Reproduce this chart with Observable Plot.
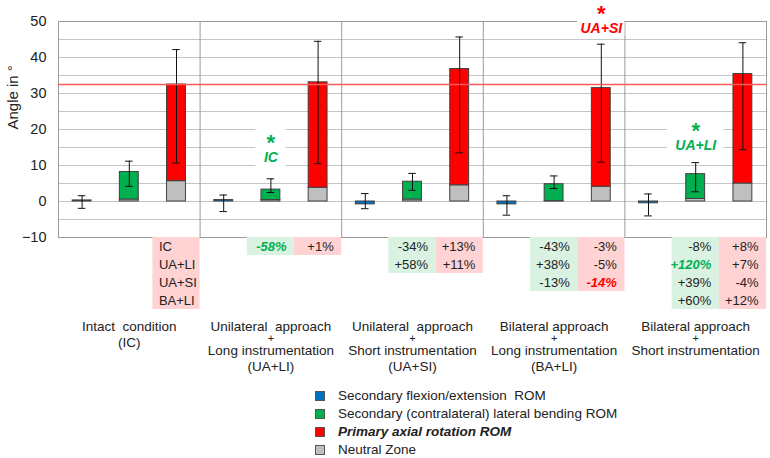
<!DOCTYPE html>
<html>
<head>
<meta charset="utf-8">
<script src="https://cdn.jsdelivr.net/npm/d3@7"></script>
<script src="https://cdn.jsdelivr.net/npm/@observablehq/plot@0.6"></script>
<style>
  body { margin: 0; background: white; font-family: "Liberation Sans", Arial, sans-serif; }
  #legend { margin-left: 315px; margin-top: 2px; font-size: 13.5px; color: #222; }
  #legend .row { height: 18px; line-height: 18px; display: flex; align-items: center; white-space: pre; }
  #legend .sw { width: 10px; height: 10px; border: 1px solid #555; margin-right: 13px; box-sizing: border-box; }
</style>
</head>
<body>
<div id="chart"></div>
<div id="legend"></div>
<script>
// ---------- data ----------
const groups = ["IC", "UA+LI", "UA+SI", "BA+LI", "BA+SI"];
const groupLabels = [
  ["Intact  condition", "(IC)"],
  ["Unilateral  approach", "+", "Long instrumentation", "(UA+LI)"],
  ["Unilateral  approach", "+", "Short instrumentation", "(UA+SI)"],
  ["Bilateral approach", "+", "Long instrumentation", "(BA+LI)"],
  ["Bilateral approach", "+", "Short instrumentation"]
];
// secondary flexion/extension ROM
const flexRom   = [0.3, 0.4, -0.8, -0.8, -0.5];
const flexErrLo = [-1.9, -2.8, -2.0, -3.8, -4.0];
const flexErrHi = [1.6, 1.8, 2.2, 1.6, 2.1];
// secondary lateral bending ROM
const latRom   = [8.2, 3.3, 5.5, 4.8, 7.6];
const latNZ    = [0.55, 0.4, 0.55, 0.1, 0.7];
const latErrLo = [4.2, 2.5, 3.1, 3.6, 2.7];
const latErrHi = [11.2, 6.3, 7.8, 7.1, 10.8];
// primary axial rotation ROM
const axRom   = [32.5, 33.1, 36.8, 31.5, 35.4];
const axNZ    = [5.65, 3.8, 4.5, 4.1, 5.0];
const axErrLo = [10.7, 10.5, 13.5, 10.9, 14.4];
const axErrHi = [42.2, 44.5, 45.7, 43.7, 44.1];
const refValue = 32.5;
const yTicks = [-10, 0, 10, 20, 30, 40, 50];
const gridTicks = [-10, -5, 0, 5, 10, 15, 20, 25, 30, 35, 40, 45, 50];
const yLabel = "Angle in °";

// change tables below the chart
const latChanges = [[], ["-58%"], ["-34%", "+58%"], ["-43%", "+38%", "-13%"], ["-8%", "+120%", "+39%", "+60%"]];
const axChanges  = [["IC", "UA+LI", "UA+SI", "BA+LI"], ["+1%"], ["+13%", "+11%"], ["-3%", "-5%", "-14%"], ["+8%", "+7%", "-4%", "+12%"]];
const latSigRow = [null, 0, null, null, 1];
const axSigRow  = [null, null, null, 2, null];

// significance annotations: group index, series index, label
const annotGroup  = [1, 3, 4];
const annotSeries = [1, 2, 1];
const annotLabel  = ["IC", "UA+SI", "UA+LI"];

const seriesNames = ["Secondary flexion/extension  ROM", "Secondary (contralateral) lateral bending ROM", "Primary axial rotation ROM", "Neutral Zone"];

// ---------- style / layout ----------
const C = { blue: "#0070C0", green: "#00B050", red: "#FF0000", gray: "#BFBFBF",
            pink: "#FFD3D3", mint: "#DAF2E2", edge: "#404040" };
const seriesColors = [C.blue, C.green, C.red, C.gray];
const FONT = "'Liberation Sans', Arial, sans-serif";
const annotStarY  = [17.6, 53.4, 20.9];
const annotTextY  = [12.3, 48.1, 15.6];
const annotBox    = [[0.32, 21, 9.5], [0.5, 56, 45.8], [0.6, 21.5, 13.8]];
const rowH = 5;           // table row height in y units
const lineY4 = [-34.9, -38.0, -41.4, -45.9];
const lineY2 = [-34.9, -39.1];

// ---------- build mark data ----------
const bars = [], errs = [];
groups.forEach((g, gi) => {
  const s0 = gi * 3;
  bars.push({ slot: s0, y1: 0, y2: flexRom[gi], fill: C.blue });
  errs.push({ slot: s0, lo: flexErrLo[gi], hi: flexErrHi[gi] });
  bars.push({ slot: s0 + 1, y1: 0, y2: latNZ[gi], fill: C.gray });
  bars.push({ slot: s0 + 1, y1: latNZ[gi], y2: latRom[gi], fill: C.green });
  errs.push({ slot: s0 + 1, lo: latErrLo[gi], hi: latErrHi[gi] });
  bars.push({ slot: s0 + 2, y1: 0, y2: axNZ[gi], fill: C.gray });
  bars.push({ slot: s0 + 2, y1: axNZ[gi], y2: axRom[gi], fill: C.red });
  errs.push({ slot: s0 + 2, lo: axErrLo[gi], hi: axErrHi[gi] });
});

const cells = [];
groups.forEach((g, gi) => {
  latChanges[gi].forEach((t, r) => cells.push({ slot: gi * 3 + 1, row: r, text: t, bg: C.mint,
    sig: latSigRow[gi] === r, sigColor: C.green, names: false }));
  axChanges[gi].forEach((t, r) => cells.push({ slot: gi * 3 + 2, row: r, text: t, bg: C.pink,
    sig: axSigRow[gi] === r, sigColor: C.red, names: gi === 0 }));
});

const catLines = [];
groupLabels.forEach((lines, gi) => {
  const ys = lines.length === 2 ? lineY2 : lineY4;
  lines.forEach((t, i) => catLines.push({ slot: gi * 3 + 1, y: ys[i], text: t, plus: t === "+" }));
});

const annots = annotGroup.map((gi, i) => ({
  slot: gi * 3 + annotSeries[i], label: annotLabel[i],
  color: annotSeries[i] === 2 ? C.red : C.green,
  starY: annotStarY[i], textY: annotTextY[i],
  hw: annotBox[i][0], top: annotBox[i][1], bottom: annotBox[i][2]
}));

const dividers = groups.slice(1).map((g, i) => (i + 1) * 3 - 0.5);
const cellY = d => -10 - rowH * (d.row + 0.5);

const chart = Plot.plot({
  width: 770, height: 385,
  marginLeft: 58, marginRight: 4, marginTop: 21, marginBottom: 148,
  style: { fontFamily: FONT, fontSize: "14px", color: "#222", background: "white", overflow: "visible" },
  x: { domain: [-0.5, 14.5], axis: null },
  y: { domain: [-10, 50], axis: null },
  marks: [
    Plot.ruleY(gridTicks, { stroke: "#c4c4c4", strokeWidth: 1 }),
    Plot.ruleX(dividers, { stroke: "#9a9a9a", strokeWidth: 1 }),
    Plot.frame({ stroke: "#9a9a9a", strokeWidth: 1 }),
    Plot.axisY({ ticks: yTicks, tickSize: 0, tickPadding: 12, fontSize: 14.5, label: null }),
    Plot.text([yLabel], { frameAnchor: "left", rotate: -90, dx: -45, fontSize: 15, fill: "#222" }),
    // white boxes behind annotations
    Plot.rect(annots, { x1: d => d.slot - d.hw, x2: d => d.slot + d.hw, y1: "bottom", y2: "top", fill: "white" }),
    // bars
    Plot.rectY(bars, { x1: d => d.slot - 0.2, x2: d => d.slot + 0.2, y1: "y1", y2: "y2",
      fill: "fill", stroke: C.edge, strokeWidth: 1 }),
    // error bars
    Plot.ruleX(errs, { x: "slot", y1: "lo", y2: "hi", stroke: "#111", strokeWidth: 1 }),
    Plot.ruleY(errs, { y: "lo", x1: d => d.slot - 0.08, x2: d => d.slot + 0.08, stroke: "#111", strokeWidth: 1 }),
    Plot.ruleY(errs, { y: "hi", x1: d => d.slot - 0.08, x2: d => d.slot + 0.08, stroke: "#111", strokeWidth: 1 }),
    // reference line (intact axial rotation)
    Plot.ruleY([refValue], { stroke: "#FF5A5A", strokeWidth: 1.5 }),
    // annotations
    Plot.text(annots, { x: "slot", y: "starY", text: () => "*", fill: "color", fontSize: 22, fontWeight: "bold", dy: 5 }),
    Plot.text(annots, { x: "slot", y: "textY", text: "label", fill: "color", fontSize: 14, fontWeight: "bold", fontStyle: "italic" }),
    // change table
    Plot.rect(cells, { x1: d => d.slot - 0.5, x2: d => d.slot + 0.5,
      y1: d => -10 - rowH * d.row, y2: d => -10 - rowH * (d.row + 1), fill: "bg" }),
    Plot.text(cells.filter(d => !d.names && !d.sig), { x: d => d.slot + 0.5, y: cellY,
      text: "text", textAnchor: "end", dx: -8, fontSize: 13, fill: "#222" }),
    Plot.text(cells.filter(d => d.sig), { x: d => d.slot + 0.5, y: cellY,
      text: "text", textAnchor: "end", dx: -8, fontSize: 13, fill: "sigColor",
      fontWeight: "bold", fontStyle: "italic" }),
    Plot.text(cells.filter(d => d.names), { x: d => d.slot - 0.5, y: cellY,
      text: "text", textAnchor: "start", dx: 6, fontSize: 13, fill: "#222" }),
    // category labels
    Plot.text(catLines.filter(d => !d.plus), { x: "slot", y: "y", text: "text", fontSize: 13.5, fill: "#222" }),
    Plot.text(catLines.filter(d => d.plus), { x: "slot", y: "y", text: "text", fontSize: 11, fill: "#222" })
  ]
});
document.getElementById("chart").appendChild(chart);

// legend
const legend = document.getElementById("legend");
seriesNames.forEach((name, i) => {
  const row = document.createElement("div");
  row.className = "row";
  const sw = document.createElement("span");
  sw.className = "sw";
  sw.style.background = seriesColors[i];
  const label = document.createElement("span");
  label.textContent = name;
  if (i === 2) { label.style.fontWeight = "bold"; label.style.fontStyle = "italic"; }
  row.appendChild(sw); row.appendChild(label);
  legend.appendChild(row);
});
</script>
</body>
</html>
